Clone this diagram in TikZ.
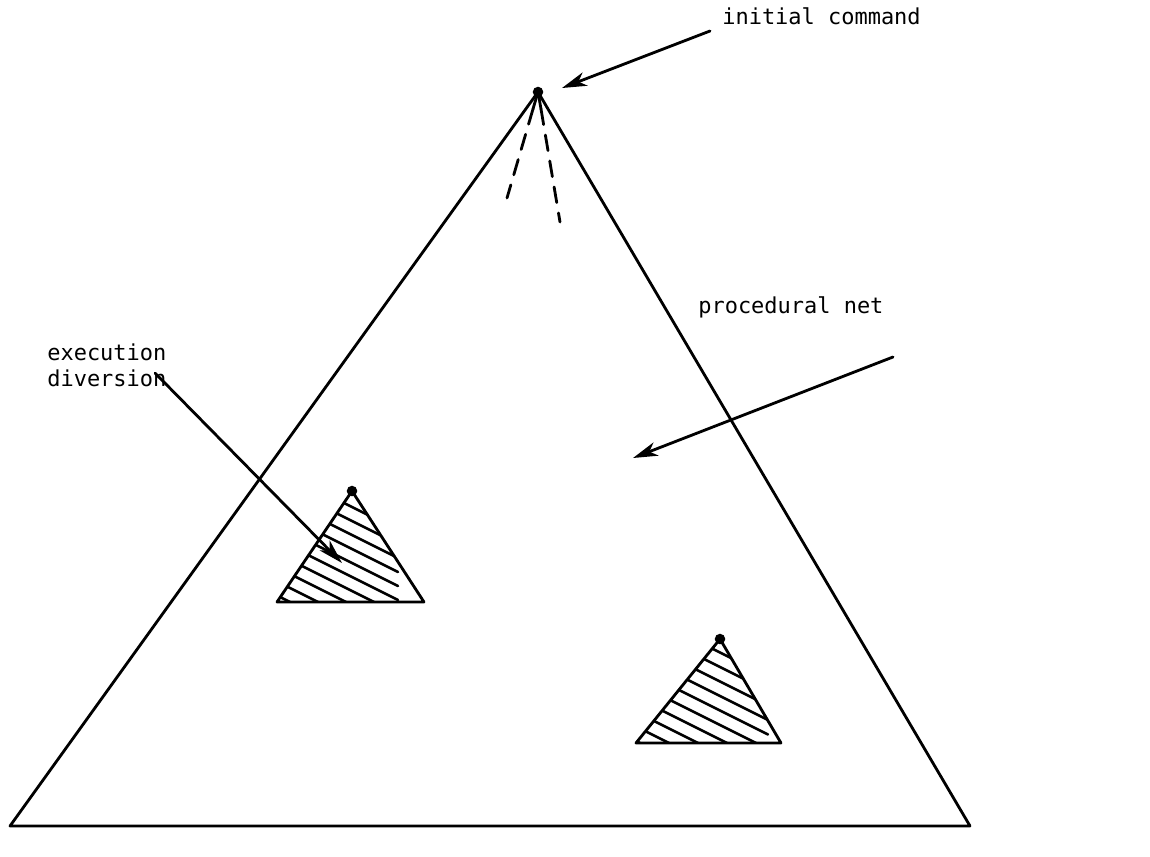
\documentclass[tikz,border=0pt]{standalone}
\usepackage{fontspec}
\setmonofont{DejaVu Sans Mono}
\usetikzlibrary{arrows.meta}
\begin{document}
\begin{tikzpicture}[x=0.02cm,y=-0.02cm,
  ln/.style={line width=1.6pt, line cap=round, line join=round},
  arr/.style={ln, -{Stealth[length=14pt,width=8pt,inset=4pt]}},
  hatch/.style={line width=1.5pt, line cap=round},
  lbl/.style={font=\ttfamily\fontsize{12.5pt}{15pt}\selectfont, inner sep=0pt, align=left},
  dotc/.style={circle, fill=black, inner sep=0pt, minimum size=6pt}]
\useasboundingbox (0,0) rectangle (1150,856);
% big triangle
\coordinate (A) at (538,92);
\coordinate (BL) at (10,826);
\coordinate (BR) at (970,826);
\draw[ln] (A) -- (BL) -- (BR) -- cycle;
\node[dotc] (top) at (A) {};
\coordinate (d1) at (507,198);
\coordinate (d2) at (560,222);
\draw[ln, dash pattern=on 9pt off 6pt] (A) ++(-5,17) -- (d1);
\draw[ln, dash pattern=on 9pt off 6pt] (A) ++(3,17) -- (d2);
\draw[ln] (A) -- ++(-5,17);
\draw[ln] (A) -- ++(3,17);
% small triangle 1
\coordinate (a1) at (352,491);
\coordinate (l1) at (277,602);
\coordinate (r1) at (424,602);
\begin{scope}
\clip (a1) -- (l1) -- (r1) -- cycle;
\foreach \k in {0,...,11} {
  \draw[hatch] (260,{447+\k*14}) -- ++(138,69);
}
\end{scope}
\draw[ln] (a1) -- (l1) -- (r1) -- cycle;
\node[dotc] (t1) at (a1) {};
% small triangle 2
\coordinate (a2) at (720,639);
\coordinate (l2) at (636,743);
\coordinate (r2) at (781,743);
\begin{scope}
\clip (a2) -- (l2) -- (r2) -- cycle;
\foreach \k in {0,...,11} {
  \draw[hatch] (620,{588+\k*14.5}) -- ++(148,74);
}
\end{scope}
\draw[ln] (a2) -- (l2) -- (r2) -- cycle;
\node[dotc] (t2) at (a2) {};
% labels
\node[lbl, anchor=west] (ic) at (722,16) {initial command};
\node[lbl, anchor=west] (pn) at (698,307) {procedural net};
\node[lbl, anchor=north west] (ed) at (47,343) {execution\\diversion};
\coordinate (icS) at (710,31);
\coordinate (icT) at (562,88);
\draw[arr] (icS) -- (icT);
\coordinate (pnS) at (893,357);
\coordinate (pnT) at (633,458);
\draw[arr] (pnS) -- (pnT);
\coordinate (edS) at (155,373);
\coordinate (edT) at (342,563);
\draw[arr] (edS) -- (edT);
\end{tikzpicture}
\end{document}
